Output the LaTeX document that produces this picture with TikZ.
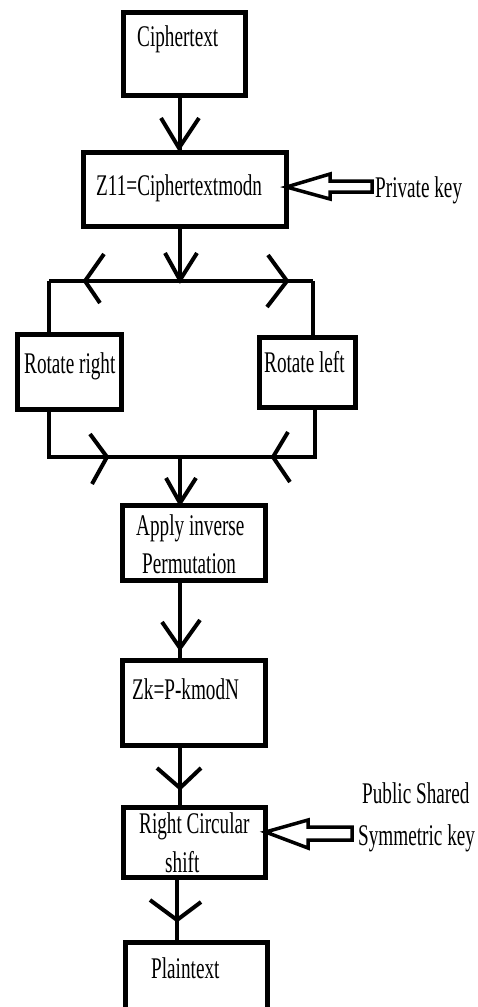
\documentclass[tikz,border=0pt]{standalone}
\usepackage{fontspec}
\setmainfont{Liberation Serif}[FakeStretch=0.64]
\begin{document}
\begin{tikzpicture}[x=1pt, y=-1pt,
  box/.style={draw, line width=5pt, inner sep=0pt, outer sep=0pt},
  wire/.style={line width=3.5pt},
  head/.style={line width=4pt, line join=miter},
  keyarrow/.style={draw, line width=3.5pt, fill=white, line join=miter},
  txt/.style={anchor=base west, inner sep=0pt, font=\fontsize{30}{36}\selectfont}]
\useasboundingbox (0,0) rectangle (477,1007);
\fill[white] (0,0) rectangle (477,1007);
\clip (0,0) rectangle (477,1007);

% process boxes
\node[box, minimum width=122pt, minimum height=83pt] (b1) at (184.5,54) {};
\node[box, minimum width=203pt, minimum height=74pt] (b2) at (185,189.5) {};
\node[box, minimum width=104pt, minimum height=75pt] (b3) at (69.5,372) {};
\node[box, minimum width=96pt,  minimum height=70pt] (b4) at (307.5,372.5) {};
\node[box, minimum width=143pt, minimum height=75pt] (b5) at (194,543) {};
\node[box, minimum width=143pt, minimum height=85pt] (b6) at (194,703) {};
\node[box, minimum width=142pt, minimum height=70pt] (b7) at (194.5,842.5) {};
\node[box, minimum width=142pt, minimum height=100pt] (b8) at (196.5,992) {};

% box texts
\node[txt] (t1) at (137,46) {Ciphertext};
\node[txt] (t2) at (96,195) {Z11=Ciphertextmodn};
\node[txt] (t3) at (24,373) {Rotate right};
\node[txt] (t4) at (264,372) {Rotate left};
\node[txt] (t5a) at (136,535) {Apply inverse};
\node[txt] (t5b) at (142,573) {Permutation};
\node[txt] (t6) at (132,699) {Zk=P-kmodN};
\node[txt] (t7a) at (139,833) {Right Circular};
\node[txt] (t7b) at (165,872) {shift};
\node[txt] (t8) at (151,978) {Plaintext};

% key labels
\node[txt] (k1) at (375,197) {Private key};
\node[txt] (k2a) at (362,803) {Public Shared};
\node[txt] (k2b) at (358,845) {Symmetric key};

% spine and branch coordinates
\coordinate (s) at (180,0);
\coordinate (sp) at (177,0);
\coordinate (L) at (49,281);
\coordinate (R) at (313,281);
\coordinate (BL) at (49,457);
\coordinate (BR) at (315,457);

% connectors
\draw[wire] (b1.south -| s) -- (b2.north -| s);
\draw[wire] (b2.south -| s) -- (s |- L);
\draw[wire] (L) -- (R);
\draw[wire] (L) -- (L |- b3.north);
\draw[wire] (R) -- (R |- b4.north);
\draw[wire] (b3.south -| BL) -- (BL) -- (BR) -- (b4.south -| BR);
\draw[wire] (s |- BL) -- (b5.north -| s);
\draw[wire] (b5.south -| s) -- (b6.north -| s);
\draw[wire] (b6.south -| s) -- (b7.north -| s);
\draw[wire] (b7.south -| sp) -- (b8.north -| sp);

% open arrowheads
\coordinate (h1) at (179,148);
\coordinate (h2) at (180,280);
\coordinate (h3) at (85,281);
\coordinate (h4) at (287,281);
\coordinate (h5) at (107,457);
\coordinate (h6) at (273,457);
\coordinate (h7) at (180,503);
\coordinate (h8) at (180,648);
\coordinate (h9) at (180,788);
\coordinate (h10) at (177,920);
\draw[head] (h1) ++(-18,-30) -- (h1) -- ++(20,-30);
\draw[head] (h2) ++(-15,-27) -- (h2) -- ++(17,-27);
\draw[head] (h3) ++(19,-27) -- (h3) -- ++(15,22);
\draw[head] (h4) ++(-19,-26) -- (h4) -- ++(-20,26);
\draw[head] (h5) ++(-17,-23) -- (h5) -- ++(-15,27);
\draw[head] (h6) ++(15,-25) -- (h6) -- ++(17,25);
\draw[head] (h7) ++(-14,-25) -- (h7) -- ++(16,-25);
\draw[head] (h8) ++(-18,-26) -- (h8) -- ++(20,-28);
\draw[head] (h9) ++(-23,-20) -- (h9) -- ++(21,-20);
\draw[head] (h10) ++(-27,-20) -- (h10) -- ++(24,-18);

% hollow key arrows
\draw[keyarrow] (b2.east |- 0,187) -- (330,174) -- (330,181) -- (372,181)
  -- (372,192) -- (330,192) -- (330,199) -- cycle;
\draw[keyarrow] (b7.east |- 0,832) -- (308,820) -- (308,827) -- (352,827)
  -- (352,840) -- (308,840) -- (308,848) -- cycle;
\end{tikzpicture}
\end{document}
